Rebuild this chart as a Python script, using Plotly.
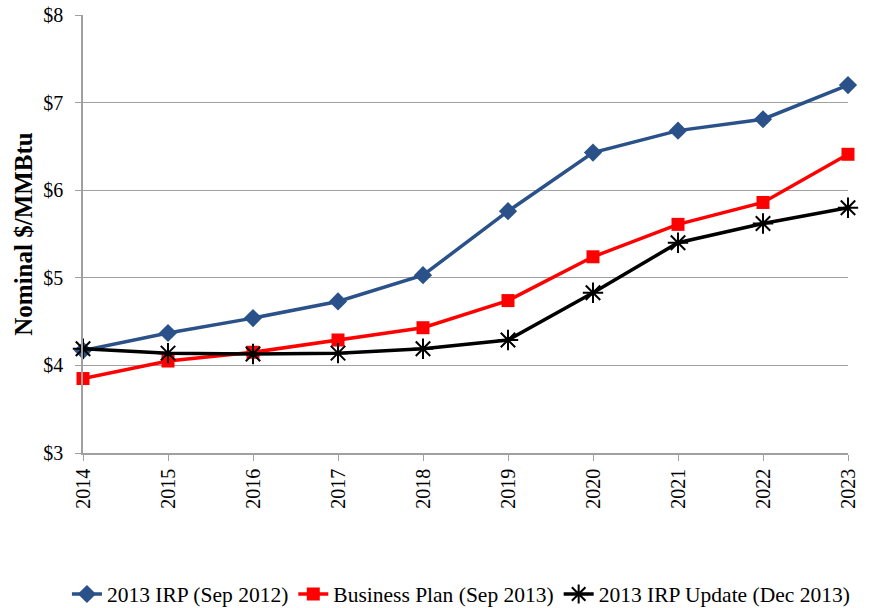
import plotly.graph_objects as go

years = ["2014", "2015", "2016", "2017", "2018", "2019", "2020", "2021", "2022", "2023"]
irp_2012 = [4.17, 4.37, 4.54, 4.73, 5.03, 5.76, 6.43, 6.68, 6.81, 7.20]
business_plan = [3.85, 4.05, 4.15, 4.29, 4.43, 4.74, 5.24, 5.61, 5.86, 6.41]
irp_update = [4.19, 4.14, 4.13, 4.14, 4.19, 4.29, 4.83, 5.40, 5.62, 5.80]
y_ticks = [3, 4, 5, 6, 7, 8]
y_tick_labels = ["$3", "$4", "$5", "$6", "$7", "$8"]

font_family = "Liberation Serif, Times New Roman, serif"

fig = go.Figure()
fig.add_trace(go.Scatter(
    x=years, y=irp_2012, name="2013 IRP (Sep 2012)", mode="lines+markers",
    line=dict(color="#2A5189", width=3.5),
    marker=dict(symbol="diamond", size=14, color="#2A5189"),
    cliponaxis=False,
))
fig.add_trace(go.Scatter(
    x=years, y=business_plan, name="Business Plan (Sep 2013)", mode="lines+markers",
    line=dict(color="#FF0000", width=3.5),
    marker=dict(symbol="square", size=13, color="#FF0000"),
    cliponaxis=False,
))
fig.add_trace(go.Scatter(
    x=years, y=irp_update, name="2013 IRP Update (Dec 2013)", mode="lines+markers",
    line=dict(color="#000000", width=3.5),
    marker=dict(symbol="asterisk-open", size=17, color="#000000", line=dict(width=2, color="#000000")),
    cliponaxis=False,
))

fig.update_layout(
    width=873, height=608,
    margin=dict(l=83, r=25, t=15, b=155, autoexpand=False),
    plot_bgcolor="white", paper_bgcolor="white",
    font=dict(family=font_family, size=20, color="black"),
    showlegend=True,
    legend=dict(orientation="h", x=-0.021, xanchor="left",
                y=-0.322, yanchor="middle",
                font=dict(size=21.5), tracegroupgap=0,
                traceorder="normal"),
    xaxis=dict(
        type="category", range=[0, 9], tickangle=-90, automargin=False,
        showgrid=False, showline=True, linecolor="#A0A0A0", linewidth=1.5,
        ticks="outside", ticklen=6, tickcolor="#A0A0A0",
        tickfont=dict(size=20, family=font_family),
        zeroline=False,
    ),
    yaxis=dict(
        range=[3, 8], tickmode="array", tickvals=y_ticks, ticktext=y_tick_labels,
        automargin=False, ticklabeloverflow="allow",
        showgrid=True, gridcolor="#A0A0A0", gridwidth=1,
        showline=True, linecolor="#A0A0A0", linewidth=1.5,
        ticks="outside", ticklen=6, tickcolor="#A0A0A0",
        ticklabelstandoff=8,
        tickfont=dict(size=20, family=font_family),
        title=dict(text="<b>Nominal $/MMBtu</b>", font=dict(size=25, family=font_family), standoff=4),
        zeroline=False,
    ),
)

fig.write_html("out.html", config={"displayModeBar": False},
               post_script="document.body.style.margin='0';")
